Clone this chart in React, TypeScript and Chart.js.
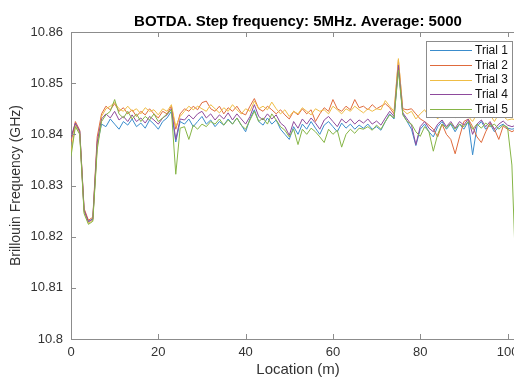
import React, { useEffect, useRef } from 'react';
import { Chart, registerables } from 'chart.js';

Chart.register(...registerables);

const titleText = 'BOTDA. Step frequency: 5MHz. Average: 5000';
const xTitle = 'Location (m)';
const yTitle = 'Brillouin Frequency (GHz)';
const seriesNames = ['Trial 1', 'Trial 2', 'Trial 3', 'Trial 4', 'Trial 5'];
const seriesColors = ['#3a8ccc', '#df6a3c', '#efbd45', '#8e4a9c', '#86b546'];
const xTickValues = [0, 20, 40, 60, 80, 100];
const yTickValues = [10.8, 10.81, 10.82, 10.83, 10.84, 10.85, 10.86];

const locations = [
  0, 1, 2, 3, 4, 5, 6, 7, 8, 9, 10, 11, 12, 13, 14, 15, 16, 17, 18, 19,
  20, 21, 22, 23, 24, 25, 26, 27, 28, 29, 30, 31, 32, 33, 34, 35, 36, 37, 38, 39,
  40, 41, 42, 43, 44, 45, 46, 47, 48, 49, 50, 51, 52, 53, 54, 55, 56, 57, 58, 59,
  60, 61, 62, 63, 64, 65, 66, 67, 68, 69, 70, 71, 72, 73, 74, 75, 76, 77, 78, 79,
  80, 81, 82, 83, 84, 85, 86, 87, 88, 89, 90, 91, 92, 93, 94, 95, 96, 97, 98, 99,
  100, 101, 102,
];

const trial1 = [
  10.8390, 10.8420, 10.8405, 10.8250, 10.8230, 10.8235, 10.8380, 10.8420, 10.8415, 10.8430,
  10.8420, 10.8410, 10.8425, 10.8418, 10.8430, 10.8415, 10.8422, 10.8412, 10.8428, 10.8420,
  10.8410, 10.8425, 10.8432, 10.8445, 10.8385, 10.8425, 10.8420, 10.8430, 10.8415, 10.8425,
  10.8435, 10.8420, 10.8428, 10.8415, 10.8425, 10.8418, 10.8430, 10.8420, 10.8432, 10.8418,
  10.8405, 10.8430, 10.8448, 10.8425, 10.8418, 10.8432, 10.8420, 10.8428, 10.8410, 10.8400,
  10.8390, 10.8415, 10.8400, 10.8420, 10.8410, 10.8425, 10.8412, 10.8400, 10.8418, 10.8425,
  10.8415, 10.8405, 10.8422, 10.8412, 10.8420, 10.8410, 10.8418, 10.8412, 10.8420, 10.8410,
  10.8415, 10.8408, 10.8425, 10.8440, 10.8430, 10.8530, 10.8440, 10.8425, 10.8410, 10.8378,
  10.8410, 10.8420, 10.8405, 10.8395, 10.8415, 10.8425, 10.8410, 10.8420, 10.8405, 10.8420,
  10.8410, 10.8425, 10.8360, 10.8415, 10.8425, 10.8410, 10.8420, 10.8405, 10.8415, 10.8420,
  10.8412, 10.8410, 10.8412,
];

const trial2 = [
  10.8385, 10.8425, 10.8408, 10.8255, 10.8232, 10.8238, 10.8395, 10.8440, 10.8455, 10.8448,
  10.8460, 10.8445, 10.8452, 10.8440, 10.8448, 10.8435, 10.8445, 10.8438, 10.8450, 10.8440,
  10.8432, 10.8445, 10.8440, 10.8455, 10.8410, 10.8440, 10.8450, 10.8445, 10.8455, 10.8448,
  10.8462, 10.8465, 10.8450, 10.8445, 10.8455, 10.8440, 10.8452, 10.8445, 10.8455, 10.8442,
  10.8438, 10.8455, 10.8470, 10.8450, 10.8445, 10.8455, 10.8448, 10.8440, 10.8448, 10.8438,
  10.8430, 10.8445, 10.8438, 10.8450, 10.8440, 10.8448, 10.8425, 10.8440, 10.8452, 10.8445,
  10.8468, 10.8450, 10.8445, 10.8455, 10.8448, 10.8468, 10.8452, 10.8455, 10.8448, 10.8458,
  10.8450, 10.8455, 10.8460, 10.8452, 10.8440, 10.8545, 10.8450, 10.8448, 10.8450, 10.8440,
  10.8430, 10.8425, 10.8418, 10.8410, 10.8395, 10.8420, 10.8400, 10.8390, 10.8362, 10.8395,
  10.8425, 10.8430, 10.8415, 10.8395, 10.8384, 10.8405, 10.8422, 10.8410, 10.8390, 10.8416,
  10.8410, 10.8405, 10.8410,
];

const trial3 = [
  10.8365, 10.8418, 10.8402, 10.8248, 10.8226, 10.8232, 10.8375, 10.8435, 10.8450, 10.8455,
  10.8462, 10.8450, 10.8445, 10.8455, 10.8445, 10.8450, 10.8440, 10.8452, 10.8445, 10.8448,
  10.8438, 10.8450, 10.8445, 10.8458, 10.8415, 10.8435, 10.8445, 10.8455, 10.8448, 10.8455,
  10.8450, 10.8445, 10.8458, 10.8450, 10.8442, 10.8452, 10.8445, 10.8458, 10.8448, 10.8440,
  10.8450, 10.8445, 10.8465, 10.8450, 10.8455, 10.8448, 10.8463, 10.8450, 10.8440, 10.8448,
  10.8435, 10.8445, 10.8440, 10.8452, 10.8445, 10.8438, 10.8450, 10.8445, 10.8448, 10.8440,
  10.8455, 10.8448, 10.8440, 10.8450, 10.8445, 10.8455, 10.8448, 10.8442, 10.8450, 10.8445,
  10.8450, 10.8448, 10.8466, 10.8455, 10.8445, 10.8548, 10.8448, 10.8440, 10.8445, 10.8430,
  10.8440, 10.8448, 10.8435, 10.8442, 10.8430, 10.8445, 10.8438, 10.8445, 10.8432, 10.8440,
  10.8448, 10.8435, 10.8425, 10.8440, 10.8435, 10.8445, 10.8438, 10.8425, 10.8440, 10.8435,
  10.8428, 10.8430, 10.8428,
];

const trial4 = [
  10.8395, 10.8422, 10.8406, 10.8252, 10.8229, 10.8234, 10.8385, 10.8430, 10.8440, 10.8432,
  10.8445, 10.8428, 10.8435, 10.8425, 10.8438, 10.8425, 10.8432, 10.8422, 10.8435, 10.8428,
  10.8420, 10.8432, 10.8438, 10.8450, 10.8390, 10.8430, 10.8428, 10.8438, 10.8430, 10.8440,
  10.8445, 10.8432, 10.8440, 10.8428, 10.8438, 10.8430, 10.8442, 10.8428, 10.8440, 10.8430,
  10.8420, 10.8435, 10.8458, 10.8435, 10.8428, 10.8440, 10.8430, 10.8438, 10.8422, 10.8415,
  10.8398, 10.8425, 10.8412, 10.8430, 10.8420, 10.8432, 10.8422, 10.8410, 10.8428, 10.8435,
  10.8425, 10.8415, 10.8430, 10.8422, 10.8430, 10.8420, 10.8428, 10.8422, 10.8430, 10.8420,
  10.8426, 10.8418, 10.8432, 10.8445, 10.8435, 10.8535, 10.8442, 10.8430, 10.8418, 10.8380,
  10.8415, 10.8425, 10.8412, 10.8405, 10.8420, 10.8428, 10.8415, 10.8425, 10.8412, 10.8425,
  10.8418, 10.8430, 10.8400, 10.8420, 10.8428, 10.8415, 10.8425, 10.8410, 10.8420, 10.8426,
  10.8418, 10.8415, 10.8418,
];

const trial5 = [
  10.8357, 10.8415, 10.8400, 10.8245, 10.8224, 10.8230, 10.8370, 10.8425, 10.8438, 10.8445,
  10.8468, 10.8440, 10.8432, 10.8445, 10.8430, 10.8440, 10.8425, 10.8435, 10.8428, 10.8440,
  10.8425, 10.8432, 10.8440, 10.8448, 10.8322, 10.8412, 10.8415, 10.8390, 10.8418, 10.8410,
  10.8420, 10.8415, 10.8425, 10.8420, 10.8430, 10.8418, 10.8428, 10.8420, 10.8432, 10.8418,
  10.8410, 10.8428, 10.8445, 10.8425, 10.8432, 10.8420, 10.8440, 10.8428, 10.8415, 10.8408,
  10.8395, 10.8410, 10.8380, 10.8410, 10.8400, 10.8412, 10.8405, 10.8395, 10.8384, 10.8410,
  10.8400, 10.8408, 10.8375, 10.8400, 10.8410, 10.8402, 10.8412, 10.8410, 10.8415, 10.8408,
  10.8418, 10.8410, 10.8425, 10.8438, 10.8432, 10.8525, 10.8438, 10.8425, 10.8420, 10.8405,
  10.8396, 10.8415, 10.8405, 10.8367, 10.8400, 10.8420, 10.8412, 10.8422, 10.8410, 10.8420,
  10.8415, 10.8425, 10.8410, 10.8420, 10.8412, 10.8422, 10.8415, 10.8420, 10.8410, 10.8418,
  10.8414, 10.8340, 10.8100,
];

const seriesValues = [trial1, trial2, trial3, trial4, trial5];

const FONT = "'Liberation Sans', Arial, Helvetica, sans-serif";
const AXIS_COLOR = '#8c8c8c';
const TEXT_COLOR = '#333333';

const decorPlugin = {
  id: 'decor',
  afterDatasetsDraw(chart: any) {
    const { ctx, chartArea: a, scales } = chart;
    ctx.save();
    ctx.strokeStyle = AXIS_COLOR;
    ctx.lineWidth = 1;
    ctx.beginPath();
    ctx.moveTo(a.left, a.top + 0.5);
    ctx.lineTo(a.right, a.top + 0.5);
    const tl = 5;
    scales.x.ticks.forEach((t: any) => {
      const px = Math.round(scales.x.getPixelForValue(t.value)) + 0.5;
      ctx.moveTo(px, a.bottom);
      ctx.lineTo(px, a.bottom - tl);
      ctx.moveTo(px, a.top);
      ctx.lineTo(px, a.top + tl);
    });
    scales.y.ticks.forEach((t: any) => {
      const py = Math.round(scales.y.getPixelForValue(t.value)) + 0.5;
      ctx.moveTo(a.left, py);
      ctx.lineTo(a.left + tl, py);
    });
    ctx.stroke();

    // legend box (MATLAB style, inside the axes at the top right)
    const bx = 426.5, by = 41.5, bw = 86, bh = 76;
    ctx.fillStyle = '#ffffff';
    ctx.fillRect(bx, by, bw, bh);
    ctx.strokeStyle = '#8c8c8c';
    ctx.strokeRect(bx, by, bw, bh);
    ctx.font = `12px ${FONT}`;
    ctx.textBaseline = 'middle';
    ctx.textAlign = 'left';
    chart.data.datasets.forEach((ds: any, i: number) => {
      const y = 50 + i * 14.75;
      ctx.strokeStyle = ds.borderColor;
      ctx.lineWidth = 1;
      ctx.beginPath();
      ctx.moveTo(430, Math.round(y) + 0.5);
      ctx.lineTo(472, Math.round(y) + 0.5);
      ctx.stroke();
      ctx.fillStyle = '#111111';
      ctx.fillText(ds.label, 475, y + 0.5);
    });
    ctx.restore();
  },
};

export default function App() {
  const canvasRef = useRef<HTMLCanvasElement | null>(null);

  useEffect(() => {
    if (!canvasRef.current) return;
    const datasets = seriesNames.map((name, i) => ({
      label: name,
      data: locations.map((x, j) => ({ x, y: seriesValues[i][j] })),
      borderColor: seriesColors[i],
      backgroundColor: seriesColors[i],
      borderWidth: 1,
      pointRadius: 0,
      tension: 0,
      fill: false,
      order: seriesNames.length - 1 - i,
    }));

    const chart = new Chart(canvasRef.current, {
      type: 'line',
      data: { datasets },
      options: {
        animation: false,
        responsive: false,
        maintainAspectRatio: false,
        layout: { padding: 0 },
        plugins: {
          legend: { display: false },
          tooltip: { enabled: false },
          title: {
            display: true,
            text: titleText,
            color: '#000000',
            fullSize: false,
            font: { family: FONT, size: 15, weight: 'bold', lineHeight: 1.2 },
            padding: { top: 13, bottom: 1 },
          },
        },
        scales: {
          x: {
            type: 'linear',
            min: 0,
            max: 104,
            afterBuildTicks: (s: any) => {
              s.ticks = xTickValues.map((v) => ({ value: v }));
            },
            afterFit: (s: any) => {
              s.height = 38;
            },
            ticks: {
              stepSize: 20,
              color: TEXT_COLOR,
              font: { family: FONT, size: 13 },
              padding: 6,
              maxRotation: 0,
              autoSkip: false,
            },
            grid: { display: false, drawTicks: false },
            border: { display: true, color: AXIS_COLOR, width: 1 },
            title: {
              display: true,
              text: xTitle,
              color: TEXT_COLOR,
              font: { family: FONT, size: 15, lineHeight: 1 },
              padding: { top: 0, bottom: 0 },
            },
          },
          y: {
            type: 'linear',
            min: 10.8,
            max: 10.86,
            afterBuildTicks: (s: any) => {
              s.ticks = yTickValues.map((v) => ({ value: v }));
            },
            afterFit: (s: any) => {
              s.width = 71;
            },
            ticks: {
              stepSize: 0.01,
              color: TEXT_COLOR,
              font: { family: FONT, size: 13 },
              padding: 8,
              callback: (v: any) => String(Number(Number(v).toFixed(2))),
            },
            grid: { display: false, drawTicks: false },
            border: { display: true, color: AXIS_COLOR, width: 1 },
            title: {
              display: true,
              text: yTitle,
              color: TEXT_COLOR,
              font: { family: FONT, size: 14 },
              padding: { top: 8, bottom: 0 },
            },
          },
        },
      },
      plugins: [decorPlugin],
    });
    return () => chart.destroy();
  }, []);

  return (
    <div
      style={{
        position: 'absolute',
        left: 0,
        top: 0,
        width: 514,
        height: 377,
        overflow: 'hidden',
        background: '#ffffff',
      }}
    >
      <canvas ref={canvasRef} width={525} height={377} style={{ display: 'block' }} />
    </div>
  );
}
